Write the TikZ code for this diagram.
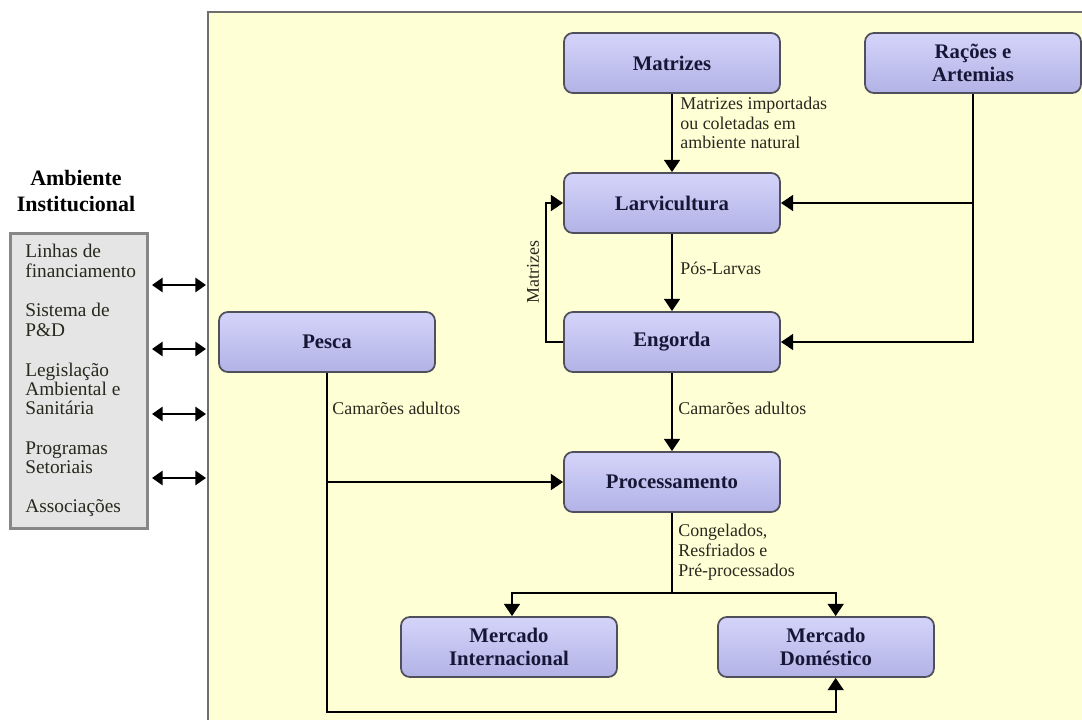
\documentclass[tikz,border=0pt]{standalone}
\usepackage{fontspec}
\setmainfont{Liberation Serif}
\usetikzlibrary{arrows.meta}

\definecolor{panelyellow}{RGB}{255,255,214}
\definecolor{panelline}{RGB}{110,110,110}
\definecolor{boxtop}{RGB}{212,212,250}
\definecolor{boxbottom}{RGB}{178,178,230}
\definecolor{boxline}{RGB}{80,80,92}
\definecolor{boxtext}{RGB}{22,22,55}
\definecolor{instgray}{RGB}{229,229,229}
\definecolor{instline}{RGB}{135,135,135}
\definecolor{notetext}{RGB}{40,40,30}

\begin{document}
\begin{tikzpicture}[
	x=0.02cm, y=-0.02cm,
	stage/.style={
		rectangle,
		draw=boxline,
		line width=1pt,
		align=center,
		rounded corners=5pt,
		top color=boxtop,
		bottom color=boxbottom,
		minimum height=1.2cm,
		minimum width=4.32cm,
		inner sep=2pt,
		text=boxtext,
		font=\fontsize{11.8}{13}\selectfont\bfseries
	},
	note/.style={
		anchor=west,
		align=left,
		inner sep=0pt,
		text=notetext,
		font=\fontsize{10.2}{11.3}\selectfont
	},
	flow/.style={
		line width=1.3pt,
		-{Triangle[width=9pt,length=7pt]}
	},
	link/.style={
		line width=1.3pt,
		{Triangle[width=8pt,length=6pt]}-{Triangle[width=8pt,length=6pt]}
	},
]
\useasboundingbox (0,0) rectangle (1082,720);

% Panel
\draw[fill=panelyellow, draw=panelline, line width=1.2pt] (208,12) rectangle (1095,735);

% Ambiente institucional
\node[align=center, font=\fontsize{12.5}{15}\selectfont\bfseries] (insttitle) at (76,191) {Ambiente\\Institucional};
\node[rectangle, draw=instline, fill=instgray, line width=1.2pt, minimum width=2.74cm, minimum height=5.9cm]
(inst) at (79,381) {};
\foreach \ypos/\itemtext in {261/{Linhas de\\financiamento}, 320/{Sistema de\\P\&D}, 389/{Legislação\\Ambiental e\\Sanitária}, 458/{Programas\\Setoriais}, 508/{Associações}}
	\node[note, font=\fontsize{11}{11}\selectfont] at (25,\ypos) {\itemtext};

\foreach \ypos [count=\i] in {285, 349, 414, 478} {
	\coordinate (l\i) at (152,\ypos);
	\coordinate (r\i) at (206,\ypos);
	\draw[link] (l\i) -- (r\i);
}

% Stages
\node[stage] (matrizes) at (672,63) {Matrizes};
\node[stage] (racoes) at (973,63) {Rações e\\Artemias};
\node[stage] (larvi) at (672,203) {Larvicultura};
\node[stage] (engorda) at (672,342) {Engorda};
\node[stage] (proc) at (672,482) {Processamento};
\node[stage] (pesca) at (327,342) {Pesca};
\node[stage] (mint) at (509,647) {Mercado\\Internacional};
\node[stage] (mdom) at (826,647) {Mercado\\Doméstico};

% Connectors
\draw[flow] (matrizes) -- (larvi);
\node[note] at (680,123) {Matrizes importadas\\ou coletadas em\\ambiente natural};

\draw[flow] (larvi) -- (engorda);
\node[note] at (680,268) {Pós-Larvas};

\draw[flow] (engorda) -- (proc);
\node[note] at (678,408) {Camarões adultos};

\draw[flow] (racoes) |- (engorda);
\coordinate (rjoin) at (racoes.south |- larvi.east);
\draw[flow] (rjoin) -- (larvi);

\draw[flow] (engorda.west) -- ++(-17,0) |- (larvi.west);
\node[note, anchor=center, rotate=90] at (533,272) {Matrizes};

\draw[flow] (pesca) |- (proc);
\node[note] at (332,408) {Camarões adultos};
\coordinate (pcorner) at (pesca.south |- 0,712);
\draw[flow] (pesca.south) -- (pcorner) -| ([xshift=5.5pt]mdom.south);

\coordinate (split) at (proc.south |- 0,593);
\draw[line width=1.3pt] (proc) -- (split);
\draw[flow] (split) -| ([xshift=1.7pt]mint.north);
\draw[flow] (split) -| ([xshift=5.5pt]mdom.north);
\node[note] at (678,552) {Congelados,\\Resfriados e\\Pré-processados};

\end{tikzpicture}
\end{document}
